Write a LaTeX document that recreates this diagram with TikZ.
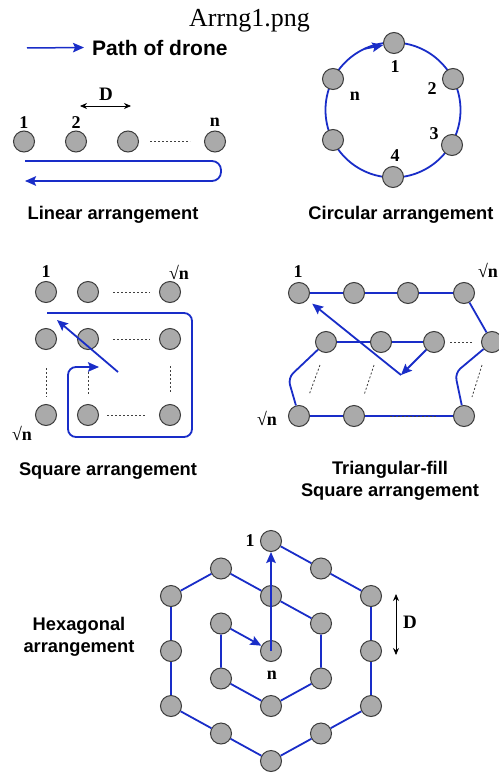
\documentclass[tikz,border=0pt]{standalone}
\usepackage{fontspec}
\setmainfont{Liberation Serif}
\newfontfamily\sansb{Liberation Sans}
\usetikzlibrary{arrows.meta}
\definecolor{drone}{RGB}{25,45,200}
\definecolor{dotfill}{RGB}{170,170,170}
\definecolor{dotedge}{RGB}{60,60,60}
\tikzset{
  dot/.style={circle,draw=dotedge,fill=dotfill,line width=1pt,minimum size=21pt,inner sep=0pt},
  dronepath/.style={draw=drone,line width=1.8pt},
  dronetip/.style={-{Stealth[length=11pt,width=9.5pt,inset=2pt]}},
  gapline/.style={draw=black!75,line width=0.8pt,dash pattern=on 2pt off 2pt},
  numlab/.style={font=\fontsize{18}{18}\selectfont\bfseries,inner sep=0pt},
  dimlab/.style={font=\fontsize{19}{19}\selectfont\bfseries,inner sep=0pt},
  caption/.style={font=\sansb\bfseries\fontsize{18.3}{22}\selectfont,inner sep=0pt,anchor=base},
  dimarrow/.style={{Stealth[length=7pt,width=6pt]}-{Stealth[length=7pt,width=6pt]},line width=0.8pt,draw=black}
}
\begin{document}
\begin{tikzpicture}[x=1pt,y=-1pt]
\useasboundingbox (0,0) rectangle (498,776);
\fill[white] (0,0) rectangle (498,776);

% title and legend
\node[font=\fontsize{26}{26}\selectfont,inner sep=0pt,anchor=base] (title) at (249.5,26.5) {Arrng1.png};
\coordinate (legA) at (27,48);
\node[font=\sansb\bfseries\fontsize{21}{21}\selectfont,inner sep=0pt,anchor=west] (legT) at (92,47.5) {Path of drone};
\draw[dronepath,dronetip,line width=1.5pt] (legA) -- ([xshift=-8pt]legT.west);

% ---------- linear ----------
\node[dot] (L1) at (24,141.5) {};
\node[dot] (L2) at (76,141.5) {};
\node[dot] (L3) at (128,141.5) {};
\node[dot] (Ln) at (215,141.5) {};
\node[numlab] (l1) at (24,123) {1};
\node[numlab] (l2) at (76,123) {2};
\node[numlab] (ln) at (215,122) {n};
\coordinate (dA) at (80,106);
\coordinate (dB) at (131,106);
\draw[dimarrow] (dA) -- (dB);
\node[dimlab] (dL) at (106,94) {D};
\draw[gapline] ([xshift=11pt]L3.east) -- ([xshift=-14pt]Ln.west);
\coordinate (lpA) at (25,161);
\coordinate (lpB) at (221,161);
\coordinate (lpC) at (221,181);
\coordinate (lpD) at (25,181);
\draw[dronepath,dronetip,rounded corners=9pt] (lpA) -- (lpB) -- (lpC) -- (lpD);
\node[caption] (capL) at (113,219) {Linear arrangement};

% ---------- circular ----------
\coordinate (cc) at (393,110);
\draw[dronepath] (cc) circle[radius=67.5pt];
\node[dot] (C1) at (394,43) {};
\node[dot] (C2) at (453,79) {};
\node[dot] (C3) at (452,145) {};
\node[dot] (C4) at (393,177) {};
\node[dot] (C5) at (333,140) {};
\node[dot] (C6) at (333,79) {};
\coordinate (cA) at (364.5,48.8);
\draw[dronepath,dronetip] (cA) -- (C1);
\node[numlab] (c1) at (395,67) {1};
\node[numlab] (c2) at (432,89) {2};
\node[numlab] (c3) at (434,134) {3};
\node[numlab] (c4) at (395,156) {4};
\node[numlab] (cn) at (355,96) {n};
\node[caption] (capC) at (401,219) {Circular arrangement};

% ---------- square ----------
\foreach \r/\y in {1/292,2/339,3/415}{
  \node[dot] (S\r1) at (46,\y) {};
  \node[dot] (S\r2) at (88,\y) {};
  \node[dot] (S\r3) at (170,\y) {};
}
\draw[gapline] ([xshift=14pt]S12.east) -- ([xshift=-9pt]S13.west);
\draw[gapline] ([xshift=14pt]S22.east) -- ([xshift=-9pt]S23.west);
\draw[gapline] ([xshift=8pt]S32.east) -- ([xshift=-14pt]S33.west);
\draw[gapline] ([yshift=-18pt]S21.south) -- ([yshift=7pt]S31.north);
\draw[gapline] ([yshift=-22pt]S22.south) -- ([yshift=9pt]S32.north);
\draw[gapline] ([yshift=-16pt]S23.south) -- ([yshift=11pt]S33.north);
\node[numlab] (s1) at (46,272) {1};
\node[numlab] (sn1) at (179,272) {√n};
\node[numlab] (sn2) at (22,433) {√n};
\coordinate (spA) at (47,313);
\coordinate (spB) at (192,313);
\coordinate (spC) at (192,437);
\coordinate (spD) at (68,437);
\coordinate (spE) at (68,367);
\coordinate (spF) at (99,367);
\draw[dronepath,dronetip,rounded corners=8pt] (spA) -- (spB) -- (spC) -- (spD) -- (spE) -- (spF);
\coordinate (spG) at (118,372);
\coordinate (spH) at (57,320);
\draw[dronepath,dronetip] (spG) -- (spH);
\node[caption] (capS) at (108,475) {Square arrangement};

% ---------- triangular-fill square ----------
\node[dot] (T11) at (299,293) {};
\node[dot] (T12) at (354,293) {};
\node[dot] (T13) at (408,293) {};
\node[dot] (T14) at (464,293) {};
\node[dot] (T21) at (326,342) {};
\node[dot] (T22) at (381,342) {};
\node[dot] (T23) at (434,342) {};
\node[dot] (T24) at (492,342) {};
\node[dot] (T31) at (299,416) {};
\node[dot] (T32) at (354,416) {};
\node[dot] (T33) at (464,416) {};
\coordinate (tR) at (455,373);
\coordinate (tL) at (288,378);
\coordinate (tM) at (401,375);
\draw[dronepath] (T11) -- (T12) -- (T13) -- (T14) -- (T24);
\draw[dronepath,rounded corners=7pt] (T24) -- (tR) -- (T33);
\draw[dronepath] (T33) -- (T32) -- (T31);
\draw[dronepath,rounded corners=7pt] (T31) -- (tL) -- (T21);
\draw[dronepath] (T21) -- (T22) -- (T23);
\draw[gapline] (390,416) -- (437,416);
\draw[gapline] ([xshift=5pt]T23.east) -- ([xshift=-9pt]T24.west);
\draw[gapline] (320,365) -- (309,395);
\draw[gapline] (374,365) -- (364,395);
\draw[gapline] (482,365) -- (472,397);
\draw[dronepath,dronetip] (T23) -- (tM);
\draw[dronepath,dronetip,shorten >=6pt] (tM) -- (T11);
\node[numlab] (t1) at (298,272) {1};
\node[numlab] (tn1) at (488,270) {√n};
\node[numlab] (tn2) at (267,418) {√n};
\node[caption] (capT1) at (390,474) {Triangular-fill};
\node[caption] (capT2) at (390,496) {Square arrangement};

% ---------- hexagonal ----------
\node[dot] (H1) at (271,541) {};
\node[dot] (H2) at (321,568.5) {};
\node[dot] (H3) at (371,596) {};
\node[dot] (H4) at (371,651) {};
\node[dot] (H5) at (371,706) {};
\node[dot] (H6) at (321,733.5) {};
\node[dot] (H7) at (271,761) {};
\node[dot] (H8) at (221,733.5) {};
\node[dot] (H9) at (171,706) {};
\node[dot] (H10) at (171,651) {};
\node[dot] (H11) at (171,596) {};
\node[dot] (H12) at (221,568.5) {};
\node[dot] (H13) at (271,596) {};
\node[dot] (H14) at (321,623.5) {};
\node[dot] (H15) at (321,678.5) {};
\node[dot] (H16) at (271,706) {};
\node[dot] (H17) at (221,678.5) {};
\node[dot] (H18) at (221,623.5) {};
\node[dot] (Hn) at (271,651) {};
\draw[dronepath] (H1) -- (H2) -- (H3) -- (H4) -- (H5) -- (H6) -- (H7) -- (H8) -- (H9) -- (H10) -- (H11) -- (H12) -- (H13) -- (H14) -- (H15) -- (H16) -- (H17) -- (H18);
\draw[dronepath,dronetip] (H18) -- (Hn);
\draw[dronepath,dronetip] (Hn.center) -- (H1);
\node[numlab] (h1) at (250,541) {1};
\node[numlab] (hn) at (272,675) {n};
\coordinate (hdA) at (396,594);
\coordinate (hdB) at (396,655);
\draw[dimarrow] (hdA) -- (hdB);
\node[dimlab] (hD) at (410,622) {D};
\node[caption] (capH1) at (79,630) {Hexagonal};
\node[caption] (capH2) at (79,652) {arrangement};
\end{tikzpicture}
\end{document}
